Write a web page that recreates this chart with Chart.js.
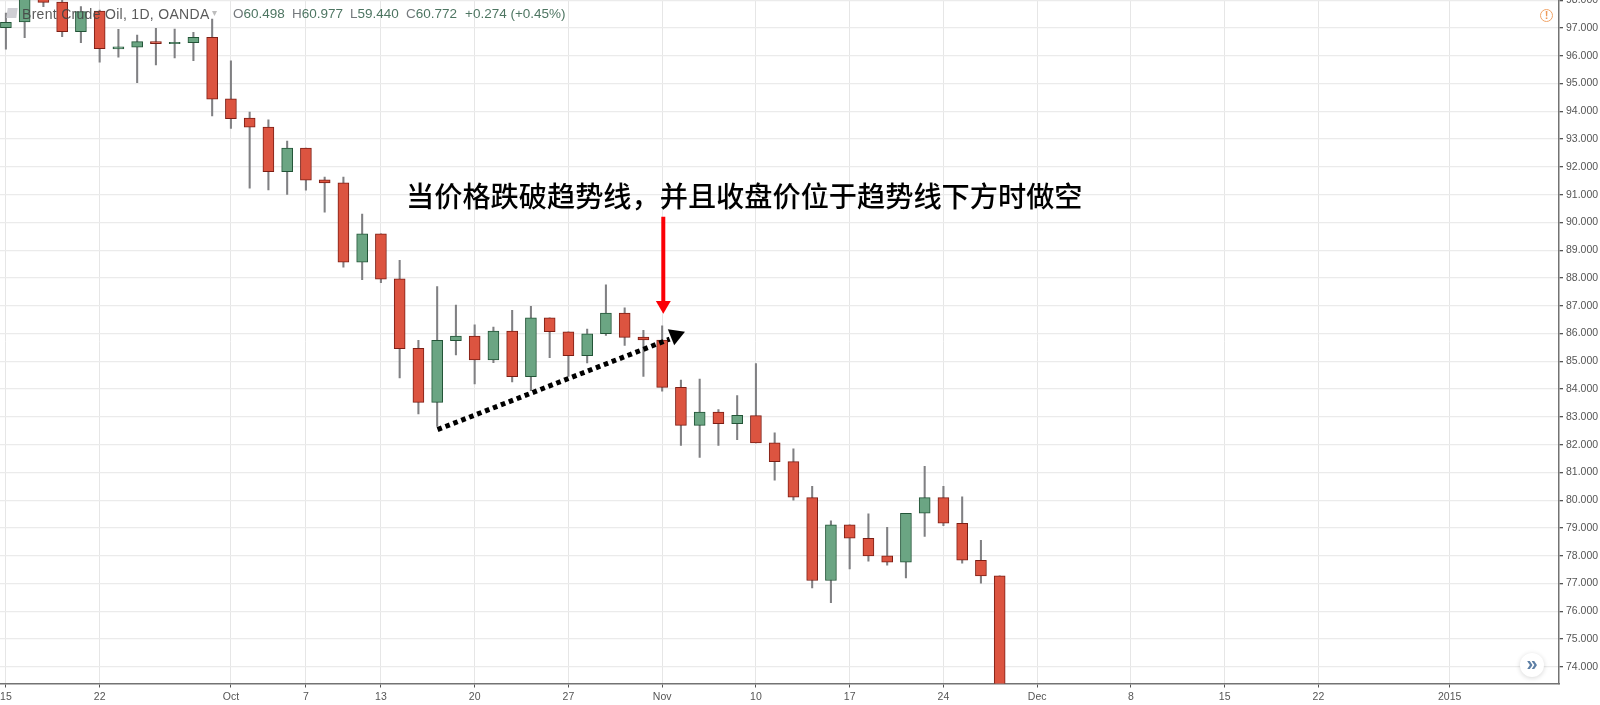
<!DOCTYPE html>
<html lang="zh">
<head>
<meta charset="utf-8">
<title>Brent Crude Oil</title>
<script src="https://cdn.jsdelivr.net/npm/chart.js@4/dist/chart.umd.min.js"></script>
<style>
html,body{margin:0;padding:0;background:#fff;width:1600px;height:705px;overflow:hidden}
#wrap{position:relative;width:1600px;height:705px}
canvas{position:absolute;left:0;top:0}
.t{position:absolute;white-space:nowrap;font-family:"Liberation Sans",Arial,sans-serif;line-height:1}
.hd{font-size:14px;top:7px;color:#444;opacity:.88}
.v{color:#35624c}
.l{color:#62676b}
#note{left:406px;top:181px;font-family:"Noto Sans CJK SC",sans-serif;font-size:28.2px;color:#000;line-height:1;font-weight:500}
#warn{left:1540px;top:9px;width:11px;height:11px;border:1.5px solid #f0a468;border-radius:50%;color:#ee9a5a;font-size:11px;font-weight:bold;text-align:center;line-height:11px}
#go{left:1520px;top:653px;width:24px;height:24px;border-radius:50%;background:#fff;box-shadow:0 1px 5px rgba(0,0,0,.16);color:#5d7fa5;font-size:20px;font-weight:bold;text-align:center;line-height:21px}
#ico{position:absolute;left:7px;top:8px;width:10px;height:10px;background:#cfcfd4;transform:skewX(-8deg)}
</style>
</head>
<body>
<div id="wrap">
<canvas id="c" width="1600" height="705"></canvas>
<div id="ico"></div>
<div class="t hd" style="left:22px;letter-spacing:.3px">Brent Crude Oil, 1D, OANDA</div>
<div class="t" style="left:212px;top:8px;font-size:10px;color:#bdbdbd">▾</div>
<div class="t hd" style="left:233px;font-size:13.5px"><span class="l">O</span><span class="v">60.498</span></div>
<div class="t hd" style="left:292px;font-size:13.5px"><span class="l">H</span><span class="v">60.977</span></div>
<div class="t hd" style="left:350px;font-size:13.5px"><span class="l">L</span><span class="v">59.440</span></div>
<div class="t hd" style="left:406px;font-size:13.5px"><span class="l">C</span><span class="v">60.772</span></div>
<div class="t hd v" style="left:465px;font-size:13.5px">+0.274 (+0.45%)</div>
<div class="t" id="note">当价格跌破趋势线，并且收盘价位于趋势线下方时做空</div>
<div class="t" id="warn">!</div>
<div class="t" id="go">»</div>
</div>
<script>
const opens  = [97.011,97.216,98.600,97.935,96.867,97.612,96.245,96.306,96.507,96.435,96.471,96.665,94.446,93.752,93.428,91.831,92.673,91.532,91.424,88.572,89.590,87.971,85.464,83.522,85.741,85.910,85.047,86.090,84.446,86.568,86.065,85.201,85.993,86.737,85.874,85.766,84.061,82.694,83.176,82.755,83.043,82.061,81.388,80.094,77.108,79.112,78.629,77.996,77.766,79.529,80.094,79.169,77.838,77.277];
const closes = [97.205,98.500,97.924,96.867,97.586,96.255,96.317,96.507,96.435,96.486,96.665,94.435,93.737,93.428,91.831,92.673,91.522,91.424,88.572,89.590,87.960,85.453,83.522,85.752,85.910,85.047,86.090,84.446,86.568,86.065,85.201,85.993,86.737,85.860,85.766,84.061,82.694,83.176,82.755,83.054,82.061,81.388,80.104,77.108,79.112,78.629,77.996,77.766,79.529,80.094,79.169,77.838,77.277,73.200];
const highs  = [97.540,98.600,98.700,98.010,97.766,97.647,96.953,96.748,96.989,96.964,96.845,97.324,95.813,93.968,93.691,92.924,92.673,91.629,91.629,90.299,89.590,88.637,85.752,87.694,87.025,86.317,86.234,86.831,86.975,86.568,86.065,86.162,87.755,86.928,86.112,86.281,84.320,84.363,83.259,83.763,84.914,82.421,81.849,80.500,79.255,79.112,79.507,79.025,79.529,81.219,80.500,80.119,78.558,77.277];
const lows   = [96.234,96.651,97.766,96.687,96.471,95.766,95.946,95.032,95.669,95.921,95.824,93.835,93.385,91.234,91.173,91.004,91.162,90.371,88.392,87.935,87.827,84.399,83.104,82.658,85.227,84.183,84.950,84.255,83.942,85.129,84.457,84.939,85.932,85.572,84.457,83.924,81.975,81.543,81.975,82.180,82.061,80.716,79.996,76.845,76.306,77.529,77.802,77.658,77.205,78.691,79.086,77.730,77.011,73.000];

const xTickIndex = [0,5,12,16,20,25,30,35,40,45,50,55,60,65,70,77];
const xTickLabel = ['15','22','Oct','7','13','20','27','Nov','10','17','24','Dec','8','15','22','2015'];
const yTickValue = [98,97,96,95,94,93,92,91,90,89,88,87,86,85,84,83,82,81,80,79,78,77,76,75,74];

const trendIndex = [23.02,35.4];
const trendPrice = [82.54,85.80];
const trendHeadIndex = [35.72];
const trendHeadPrice = [85.93];
const signalIndex = [35.06,35.06];
const signalPrice = [90.20,87.14];
const signalHeadIndex = [35.06];
const signalHeadPrice = [87.02];

const RED='#dc5440', RED_B='#7c1e14', GREEN='#6ba583', GREEN_B='#225437';
const isUp = opens.map((o,i)=>closes[i]>=o);
const pts = (xs,ys)=>xs.map((x,i)=>({x,y:ys[i]}));

// The arrow heads must not push the plot area in from the canvas edge.
Chart.registry.getController('line').prototype.getMaxOverflow = () => 0;

new Chart(document.getElementById('c'),{
  type:'bar',
  data:{datasets:[
    {type:'line',order:0,data:pts(trendIndex,trendPrice),borderColor:'#000',borderWidth:5,borderDash:[4.6,3.9],borderCapStyle:'butt',pointRadius:0,tension:0},
    {type:'line',order:0,data:pts(trendHeadIndex,trendHeadPrice),showLine:false,pointStyle:'triangle',pointRadius:10,pointRotation:68.5,backgroundColor:'#000',borderColor:'#000',pointBorderWidth:0},
    {type:'line',order:0,data:pts(signalIndex,signalPrice),borderColor:'#fb0006',borderWidth:4,pointRadius:0,tension:0},
    {type:'line',order:0,data:pts(signalHeadIndex,signalHeadPrice),showLine:false,pointStyle:'triangle',pointRadius:8.6,pointRotation:180,backgroundColor:'#fb0006',borderColor:'#fb0006',pointBorderWidth:0},
    {order:1,grouped:false,barThickness:11,borderSkipped:false,borderWidth:1,
     data:opens.map((o,i)=>({x:i,y:[o,closes[i]]})),
     backgroundColor:isUp.map(u=>u?GREEN:RED),borderColor:isUp.map(u=>u?GREEN_B:RED_B)},
    {order:2,grouped:false,barThickness:1.4,borderWidth:0,
     data:lows.map((l,i)=>({x:i,y:[l,highs[i]]})),backgroundColor:'#808083'}
  ]},
  options:{
    responsive:false,animation:false,devicePixelRatio:1,
    layout:{padding:0},
    plugins:{legend:{display:false},tooltip:{enabled:false},title:{display:false}},
    scales:{
      x:{type:'linear',offset:false,min:-0.315,max:82.83,
        grid:{offset:false,color:'#e6e6e6',lineWidth:1,tickLength:4,tickColor:'#555'},
        border:{color:'#737373',width:1.5},
        afterBuildTicks(s){s.ticks=xTickIndex.map(v=>({value:v}));},
        ticks:{autoSkip:false,maxRotation:0,minRotation:0,padding:3,color:'#555',font:{family:'"Liberation Sans",Arial,sans-serif',size:10.5},
          callback(v){const k=xTickIndex.indexOf(v);return k<0?'':xTickLabel[k];}},
        afterFit(s){s.height=21.5;s.paddingLeft=0;s.paddingRight=0;}
      },
      y:{type:'linear',position:'right',min:73.4,max:98.007,
        grid:{color:'#ebebeb',lineWidth:1.3,tickLength:4,tickColor:'#555'},
        border:{color:'#737373',width:1.5},
        afterBuildTicks(s){s.ticks=yTickValue.map(v=>({value:v}));},
        ticks:{autoSkip:false,padding:3,color:'#555',font:{family:'"Liberation Sans",Arial,sans-serif',size:10.5},
          callback(v){return v.toFixed(3);}},
        afterFit(s){s.width=41;s.paddingTop=0;s.paddingBottom=0;}
      }
    }
  }
});
</script>
</body>
</html>
